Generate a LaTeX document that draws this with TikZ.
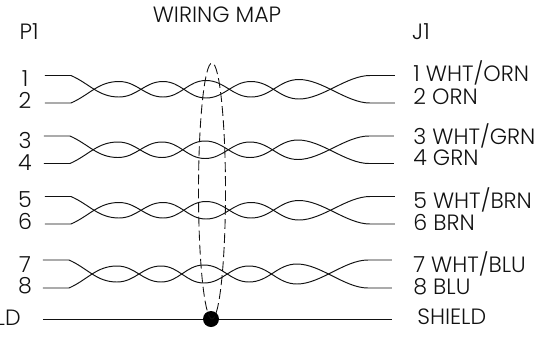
\documentclass[tikz,border=0pt]{standalone}
\usepackage{fontspec}
\setmainfont{Poppins Light}
\usepackage{xcolor}
\definecolor{ink}{HTML}{111111}
\tikzset{
  wire/.style={ink, line width=0.55pt},
  shieldline/.style={ink, dash pattern=on 5.6pt off 2.4pt, line width=0.5pt},
  lab/.style={inner sep=0pt, text=ink, text height=9pt, text depth=0pt, font=\fontsize{12.6}{13}\selectfont},
  lableft/.style={lab, anchor=west},
}
% one twisted pair, top wire and bottom wire
\newcommand{\twistpair}[6]{%
  \coordinate (#6a) at (#4,#1);
  \coordinate (#6b) at (#4,#2);
  \coordinate (#6c) at (#5,#1);
  \coordinate (#6d) at (#5,#2);
  \draw[wire] (#6a) -- (#3+71,#1) to[out=-24,in=180] (#3+119,#2-6) to[out=0,in=180] (#3+163,#1+6)
    to[out=0,in=180] (#3+206,#2-5) to[out=0,in=180] (#3+251,#1+6) to[out=0,in=180] (#3+299,#2-4)
    to[out=0,in=180,looseness=0.8] (#3+370,#1) -- (#6c);
  \draw[wire] (#6b) -- (#3+71,#2) to[out=24,in=180] (#3+119,#1+6) to[out=0,in=180] (#3+163,#2-6)
    to[out=0,in=180] (#3+206,#1+5) to[out=0,in=180] (#3+251,#2-6) to[out=0,in=180] (#3+299,#1+4)
    to[out=0,in=180,looseness=0.8] (#3+370,#2) -- (#6d);
}
\begin{document}
\begin{tikzpicture}[x=0.02cm,y=-0.02cm]
\useasboundingbox (0,0) rectangle (539,336);
\clip (0,0) rectangle (539,336);
\node[lab] (title) at (217,15) {WIRING MAP};
\node[lab] (ptitle) at (29,32) {P1};
\node[lab] (jtitle) at (421,32) {J1};
% left pin numbers
\node[lab] (p1) at (25,79) {1};
\node[lab] (p2) at (25,101) {2};
\node[lab] (p3) at (25,141) {3};
\node[lab] (p4) at (25,163) {4};
\node[lab] (p5) at (25,200) {5};
\node[lab] (p6) at (25,222) {6};
\node[lab] (p7) at (25,265) {7};
\node[lab] (p8) at (25,286) {8};
\node[lab, anchor=east] (pshield) at (21,318) {SHIELD};
% right pin names
\node[lableft] (j1) at (413,74) {1 WHT/ORN};
\node[lableft] (j2) at (413,97) {2 ORN};
\node[lableft] (j3) at (413,137) {3 WHT/GRN};
\node[lableft] (j4) at (413,158) {4 GRN};
\node[lableft] (j5) at (413,201) {5 WHT/BRN};
\node[lableft] (j6) at (413,223) {6 BRN};
\node[lableft] (j7) at (413,265) {7 WHT/BLU};
\node[lableft] (j8) at (413,287) {8 BLU};
\node[lableft] (jshield) at (417,317) {SHIELD};
% the four pairs
\twistpair{75.5}{103}{0}{45}{395}{pa}
\twistpair{136}{163.5}{-1}{44}{394}{pb}
\twistpair{196.5}{224}{0}{45}{395}{pc}
\twistpair{260}{288}{-2}{43}{392}{pd}
% shield
\node[circle, fill=black, inner sep=0pt, minimum size=0.32cm] (drain) at (211,319) {};
\coordinate (sa) at (43,319);
\coordinate (sb) at (392,319);
\draw[wire] (sa) -- (drain) -- (sb);
\draw[shieldline] (212,191) ellipse [x radius=13.5, y radius=128];
\end{tikzpicture}
\end{document}
